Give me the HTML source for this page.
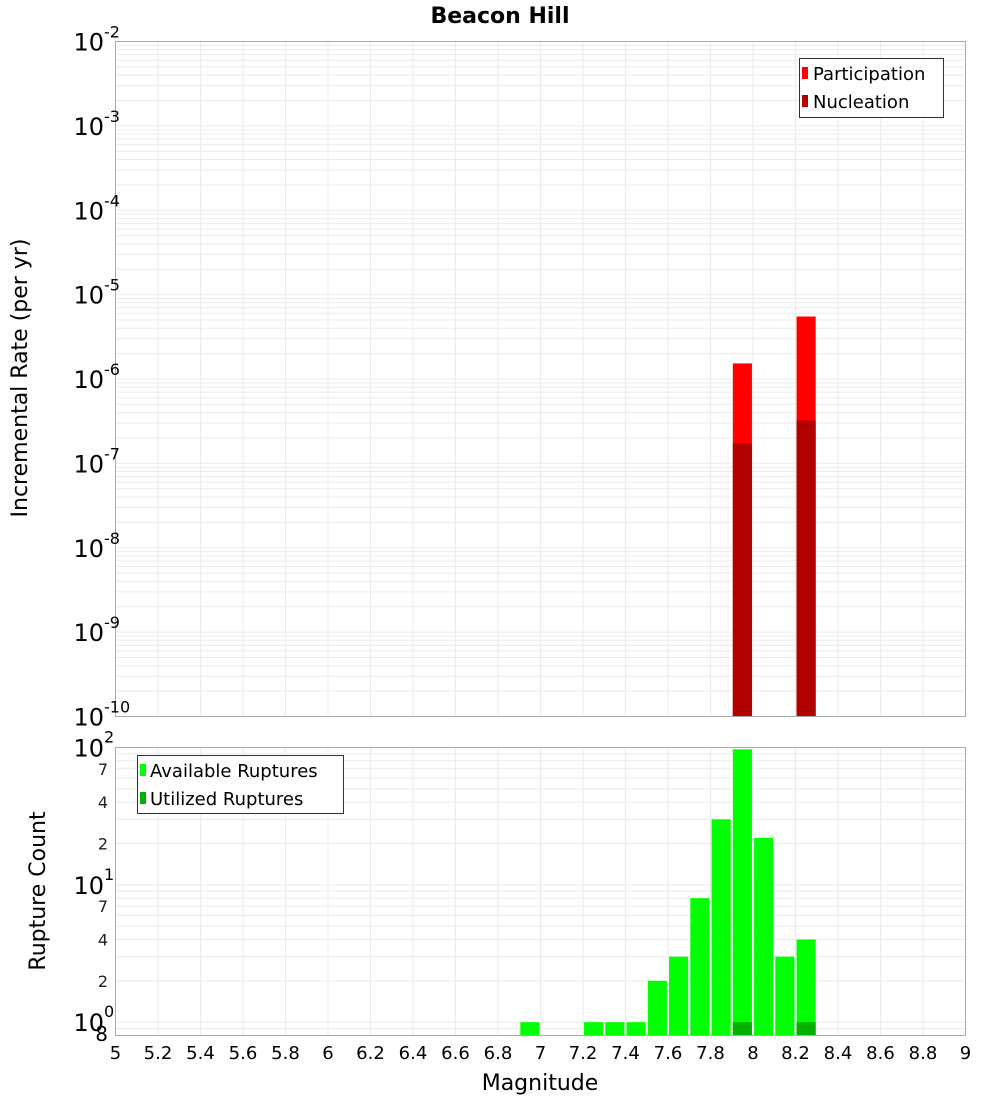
<!DOCTYPE html>
<html><head><meta charset="utf-8"><style>
body{margin:0;background:#fff}
svg{display:block;font-family:"DejaVu Sans","Liberation Sans",sans-serif}
</style></head><body>
<svg id="chart" width="1000" height="1100" xmlns="http://www.w3.org/2000/svg">
<text x="500" y="23" text-anchor="middle" font-size="22" font-weight="bold">Beacon Hill</text>
<g id="topg"></g><g id="botg"></g>
<text transform="translate(27,378) rotate(-90)" text-anchor="middle" font-size="22">Incremental Rate (per yr)</text>
<text transform="translate(45,891) rotate(-90)" text-anchor="middle" font-size="22">Rupture Count</text>
<text x="540" y="1090" text-anchor="middle" font-size="22">Magnitude</text>
</svg>
<script>
const rateMags=[7.95,8.25];
const participation=[1.53e-6,5.5e-6];
const nucleation=[1.72e-7,3.22e-7];
const countMags=[6.95,7.25,7.35,7.45,7.55,7.65,7.75,7.85,7.95,8.05,8.15,8.25];
const available=[1,1,1,1,2,3,8,30,97,22,3,4];
const utilizedMags=[7.95,8.25];
const utilized=[1,1];
const xTicks=[5,5.2,5.4,5.6,5.8,6,6.2,6.4,6.6,6.8,7,7.2,7.4,7.6,7.8,8,8.2,8.4,8.6,8.8,9];
const topExps=[-2,-3,-4,-5,-6,-7,-8,-9,-10];
const botExps=[0,1,2];
const botMinor=[2,4,7,20,40,70];
const botMinorLbl=["2","4","7","2","4","7"];

const NS="http://www.w3.org/2000/svg";
const L=115.5,R=965.5;
const x=m=>L+(m-5)/(9-5)*(R-L);
const T1=41.5,B1=716.5;
const yTop=v=>T1+(-2-Math.log10(v))/8*(B1-T1);
const T2=747.5,B2=1035.5;
const lo2=Math.log10(0.8),hi2=2;
const yBot=v=>B2-(Math.log10(v)-lo2)/(hi2-lo2)*(B2-T2);
function mk(p,tag,a,txt){const e=document.createElementNS(NS,tag);for(const k in a)e.setAttribute(k,a[k]);if(txt!==undefined)e.textContent=txt;p.appendChild(e);return e;}
const gTop=document.getElementById('topg'),gBot=document.getElementById('botg');

// top plot
let bg=mk(gTop,'rect',{x:L,y:T1,width:R-L,height:B1-T1,fill:'#fff'});


for(let d=-10;d<-2;d++)for(let k=1;k<10;k++){const v=k*Math.pow(10,d);const yy=yTop(v);if(yy<T1)continue;mk(gTop,'line',{x1:L,x2:R,y1:yy,y2:yy,stroke:'#ebebeb','stroke-width':1});}
xTicks.forEach(m=>mk(gTop,'line',{x1:x(m),x2:x(m),y1:T1,y2:B1,stroke:'#ebebeb'}));
rateMags.forEach((m,i)=>{
 const x0=x(m-0.045),w=x(m+0.045)-x0;
 let r=mk(gTop,'rect',{x:x0,y:yTop(participation[i]),width:w,height:B1-yTop(participation[i]),fill:'#ff0000'});
 
 
 let n=mk(gTop,'rect',{x:x0,y:yTop(nucleation[i]),width:w,height:B1-yTop(nucleation[i]),fill:'#b20000'});
 
 
});
mk(gTop,'rect',{x:L,y:T1,width:R-L,height:B1-T1,fill:'none',stroke:'#aaa'});
topExps.forEach(e=>{const yy=yTop(Math.pow(10,e));
 let t=mk(gTop,'text',{x:104,y:yy+9,'text-anchor':'end','font-size':24},'10');
 
 
 mk(gTop,'text',{x:104,y:yy-4,'font-size':16},String(e));
});
// top legend
let lg=mk(gTop,'g',{});


mk(lg,'rect',{x:799.5,y:58.5,width:144,height:59,fill:'#fff',stroke:'#333'});
mk(lg,'rect',{x:802,y:67,width:6,height:12,fill:'#ff0000'});
mk(lg,'text',{x:813,y:80,'font-size':18},'Participation');
mk(lg,'rect',{x:802,y:95,width:6,height:12,fill:'#b20000'});
mk(lg,'text',{x:813,y:108,'font-size':18},'Nucleation');

// bottom plot
for(let d=-1;d<2;d++)for(let k=1;k<10;k++){const v=k*Math.pow(10,d);if(v<0.8)continue;const yy=yBot(v);mk(gBot,'line',{x1:L,x2:R,y1:yy,y2:yy,stroke:'#ebebeb'});}
xTicks.forEach(m=>mk(gBot,'line',{x1:x(m),x2:x(m),y1:T2,y2:B2,stroke:'#ebebeb'}));
countMags.forEach((m,i)=>{
 const x0=x(m-0.045),w=x(m+0.045)-x0;
 let r=mk(gBot,'rect',{x:x0,y:yBot(available[i]),width:w,height:B2-yBot(available[i]),fill:'#00ff00'});
 
 
});
utilizedMags.forEach((m,i)=>{
 const x0=x(m-0.045),w=x(m+0.045)-x0;
 let r=mk(gBot,'rect',{x:x0,y:yBot(utilized[i]),width:w,height:B2-yBot(utilized[i]),fill:'#00b200'});
 
 
});
mk(gBot,'rect',{x:L,y:T2,width:R-L,height:B2-T2,fill:'none',stroke:'#aaa'});
botExps.forEach(e=>{const yy=yBot(Math.pow(10,e));
 let t=mk(gBot,'text',{x:104,y:yy+9,'text-anchor':'end','font-size':24},'10');
 
 
 mk(gBot,'text',{x:104,y:yy-5,'font-size':16},String(e));
});
botMinor.forEach((v,i)=>mk(gBot,'text',{x:108,y:yBot(v)+6,'text-anchor':'end','font-size':16,fill:'#222'},botMinorLbl[i]));
mk(gBot,'text',{x:108,y:1041,'text-anchor':'end','font-size':20},'8');
xTicks.forEach(m=>{let t=mk(gBot,'text',{x:x(m),y:1059,'text-anchor':'middle','font-size':18},String(m));
 
 });
let lg2=mk(gBot,'g',{});


mk(lg2,'rect',{x:137.5,y:755.5,width:206,height:58,fill:'#fff',stroke:'#333'});
mk(lg2,'rect',{x:140,y:764,width:6,height:12,fill:'#00ff00'});
mk(lg2,'text',{x:150,y:777,'font-size':18},'Available Ruptures');
mk(lg2,'rect',{x:140,y:792,width:6,height:12,fill:'#00b200'});
mk(lg2,'text',{x:150,y:805,'font-size':18},'Utilized Ruptures');
</script>
</body></html>
